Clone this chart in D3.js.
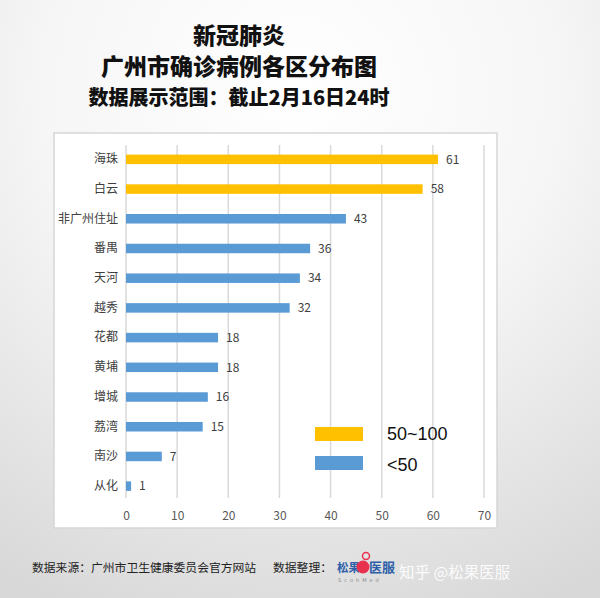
<!DOCTYPE html>
<html><head><meta charset="utf-8">
<script src="https://cdn.jsdelivr.net/npm/d3@7"></script>
<style>body{margin:0;}svg{display:block;}</style>
</head><body>
<script>
const categories = ["海珠","白云","非广州住址","番禺","天河","越秀","花都","黄埔","增城","荔湾","南沙","从化"];
const values = [61,58,43,36,34,32,18,18,16,15,7,1];
const groups = ["50~100","<50"];
const groupColors = ["#FFC000","#5B9BD5"];
const xTicks = [0,10,20,30,40,50,60,70];
const titleLines = ["新冠肺炎","广州市确诊病例各区分布图","数据展示范围：截止2月16日24时"];

const W=600,H=598;
const svg=d3.select("body").append("svg").attr("width",W).attr("height",H);
const defs=svg.append("defs");
const g=defs.append("radialGradient").attr("id","bg").attr("cx","50%").attr("cy","15%").attr("r","95%");
g.append("stop").attr("offset","0%").attr("stop-color","#ffffff");
g.append("stop").attr("offset","45%").attr("stop-color","#f6f6f6");
g.append("stop").attr("offset","100%").attr("stop-color","#d8d8d8");
svg.append("rect").attr("width",W).attr("height",H).attr("fill","url(#bg)");

const font='"Noto Sans CJK SC","Noto Sans",sans-serif';
// titles
const tsz=[23,23,20], ty=[44,75,105];
titleLines.forEach((t,i)=>{
  svg.append("text").attr("x",239).attr("y",ty[i]).attr("text-anchor","middle")
   .attr("font-family",font).attr("font-weight",900).attr("font-size",tsz[i]).attr("fill","#111").text(t);
});

// plot box
svg.append("rect").attr("x",54).attr("y",133).attr("width",443).attr("height",395)
  .attr("fill","#fff").attr("stroke","#d6d6d6").attr("stroke-width",1.5);

const x=d3.scaleLinear().domain([0,70]).range([126,484]);
const y=d3.scaleBand().domain(categories).range([144.5,501]).paddingInner(0.68).paddingOuter(0.34);

svg.append("g").selectAll("line").data(xTicks).join("line")
  .attr("x1",d=>x(d)).attr("x2",d=>x(d)).attr("y1",145).attr("y2",498)
  .attr("stroke","#d9d9d9").attr("stroke-width",1.5);

const xAxis=d3.axisBottom(x).tickValues(xTicks).tickSize(0).tickPadding(0);
const ax=svg.append("g").attr("transform","translate(0,520)").call(xAxis);
ax.select(".domain").remove();
ax.selectAll("text").attr("font-family",font).attr("font-size",12).attr("fill","#595959").attr("dy",0);

const yAxis=d3.axisLeft(y).tickSize(0).tickPadding(0);
const ay=svg.append("g").attr("transform","translate(118,0)").call(yAxis);
ay.select(".domain").remove();
ay.selectAll("text").attr("font-family",font).attr("font-size",12).attr("fill","#404040");

svg.append("g").selectAll("rect").data(categories).join("rect")
  .attr("x",x(0)).attr("y",d=>y(d)).attr("height",y.bandwidth())
  .attr("width",(d,i)=>x(values[i])-x(0))
  .attr("fill",(d,i)=>values[i]>=50?groupColors[0]:groupColors[1]);

svg.append("g").selectAll("text").data(categories).join("text")
  .attr("x",(d,i)=>x(values[i])+8).attr("y",d=>y(d)+y.bandwidth()/2).attr("dy","0.35em")
  .attr("font-family",font).attr("font-size",12).attr("fill","#404040")
  .text((d,i)=>values[i]);

// legend
groups.forEach((gname,i)=>{
  svg.append("rect").attr("x",315).attr("y",427+i*29).attr("width",48).attr("height",14).attr("fill",groupColors[i]);
  svg.append("text").attr("x",387).attr("y",440+i*31).attr("font-family","Liberation Sans, Arial, sans-serif")
    .attr("font-size",18).attr("fill","#111").text(gname);
});

// footer
svg.append("text").attr("x",32).attr("y",572).attr("font-family",font).attr("font-size",11.8).attr("fill","#222")
  .text("数据来源：广州市卫生健康委员会官方网站");
svg.append("text").attr("x",273).attr("y",572).attr("font-family",font).attr("font-size",11.8).attr("fill","#222")
  .text("数据整理：");
svg.append("text").attr("x",337).attr("y",572).attr("font-family",font).attr("font-size",11.5).attr("fill","#2e5fa8").attr("font-weight",700)
  .text("松果");
svg.append("text").attr("x",369).attr("y",572).attr("font-family",font).attr("font-size",13).attr("fill","#2e5fa8").attr("font-weight",700)
  .text("医服");
// logo cup
svg.append("circle").attr("cx",363).attr("cy",567).attr("r",6.5).attr("fill","#e8304f");
svg.append("circle").attr("cx",366).attr("cy",556).attr("r",3.5).attr("fill","none").attr("stroke","#e8304f").attr("stroke-width",1.5);
svg.append("text").attr("x",338).attr("y",582).attr("font-family","DejaVu Sans").attr("font-size",5).attr("letter-spacing",3).attr("fill","#888")
  .text("ScohMed");
svg.append("text").attr("x",399).attr("y",578).attr("font-family",font).attr("font-size",15.5).attr("fill","#ffffff").attr("opacity",0.9)
  .text("知乎 @松果医服");
</script>
</body></html>
